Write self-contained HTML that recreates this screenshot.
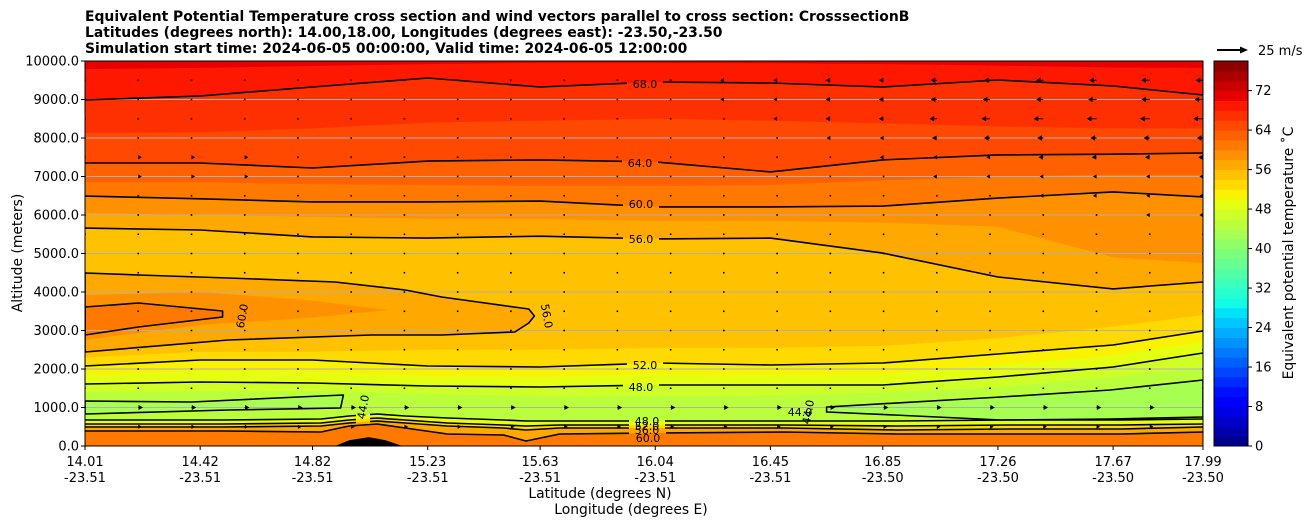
<!DOCTYPE html>
<html><head><meta charset="utf-8">
<style>
html,body{margin:0;padding:0;background:#fff;}
svg{display:block;font-family:"DejaVu Sans","Liberation Sans",sans-serif;}
</style></head>
<body>
<svg id="chart" width="1308" height="526" viewBox="0 0 1308 526" xmlns="http://www.w3.org/2000/svg">
  <defs>
    <clipPath id="plotclip"><rect x="85" y="61" width="1118" height="385"/></clipPath>
    <mask id="labelmask" maskUnits="userSpaceOnUse" x="0" y="0" width="1308" height="526">
      <rect x="0" y="0" width="1308" height="526" fill="#fff"/>
      <g id="maskholes" fill="#000"></g>
    </mask>
  </defs>
  <g font-size="13.9" font-weight="bold" fill="#000">
    <text x="85" y="21">Equivalent Potential Temperature cross section and wind vectors parallel to cross section: CrosssectionB</text>
    <text x="85" y="37">Latitudes (degrees north): 14.00,18.00, Longitudes (degrees east): -23.50,-23.50</text>
    <text x="85" y="53">Simulation start time: 2024-06-05 00:00:00, Valid time: 2024-06-05 12:00:00</text>
  </g>
  <g id="fills" clip-path="url(#plotclip)"></g>
  <g id="grid" clip-path="url(#plotclip)"></g>
  <g id="terrain" clip-path="url(#plotclip)"></g>
  <g id="lines" clip-path="url(#plotclip)" mask="url(#labelmask)"></g>
  <g id="clabels" font-size="11" fill="#000"></g>
  <g id="quiver" clip-path="url(#plotclip)"></g>
  <rect x="85" y="61" width="1118" height="385" fill="none" stroke="#000" stroke-width="1"/>
  <g id="yaxis" font-size="13"></g>
  <g id="xaxis" font-size="13"></g>
  <text x="22" y="253" font-size="13.9" text-anchor="middle" transform="rotate(-90 22 253)">Altitude (meters)</text>
  <text x="600" y="498" font-size="13.9" text-anchor="middle">Latitude (degrees N)</text>
  <text x="631" y="514" font-size="13.9" text-anchor="middle">Longitude (degrees E)</text>
  <g id="colorbar"></g>
  <text x="1293" y="253" font-size="13.9" text-anchor="middle" transform="rotate(-90 1293 253)">Equivalent potential temperature ˚C</text>
  <g>
    <line x1="1217" y1="50" x2="1241" y2="50" stroke="#000" stroke-width="2"/>
    <polygon points="1240,46.5 1248,50 1240,53.5" fill="#000"/>
    <text x="1258" y="55" font-size="13">25 m/s</text>
  </g>
</svg>
<script>
// ---------- data ----------
const gridLats = [14.01,14.42,14.82,15.23,15.63,16.04,16.45,16.85,17.26,17.67,17.99];
const lon = ["-23.51","-23.51","-23.51","-23.51","-23.51","-23.51","-23.51","-23.50","-23.50","-23.50","-23.50"];
const yTicks = [0,1000,2000,3000,4000,5000,6000,7000,8000,9000,10000];
const cbarTicks = [0,8,16,24,32,40,48,56,64,72];
const lev70 = [9790,9820,9870,9920,9950,9950,9940,9920,9880,9830,9820];
const lev68 = [8987,9091,9325,9558,9325,9455,9429,9325,9506,9351,9117];
const lev66 = [8130,8150,8250,8400,8450,8500,8450,8380,8300,8250,8250];
const lev64 = [7350,7350,7220,7400,7430,7380,7120,7430,7560,7580,7610];
const lev62 = [6850,6850,6800,6780,6750,6750,6780,6900,7000,7050,7050];
const lev60 = [6490,6420,6340,6340,6360,6210,6210,6230,6440,6600,6470];
const lev58 = [6050,6000,5950,5900,5900,5850,5850,5800,5700,4900,4750];
const lev56 = [5660,5610,5430,5400,5450,5380,5400,5010,4390,4080,4260];
const lev54 = [2300,2450,2450,2500,2500,2550,2550,2600,2800,3100,3400];
const lev52 = [2078,2234,2234,2078,2052,2156,2104,2156,2390,2623,2987];
const lev50 = [1850,1950,1930,1820,1800,1870,1850,1870,2100,2350,2700];
const lev48 = [1610,1662,1636,1558,1532,1584,1584,1584,1792,2052,2416];
const lev46 = [1400,1420,1430,1350,1300,1300,1320,1390,1530,1800,2050];
const lobe56 = [[14.01,4494],[14.20,4442],[14.52,4364],[14.90,4260],[15.15,4052],[15.28,3870],[15.59,3558],[15.61,3377],[15.59,3195],[15.54,2961],[15.28,2883],[15.03,2883],[14.52,2753],[14.01,2442]];
const tongue58 = [[14.01,3922],[14.42,4000],[14.80,3792],[15.09,3532],[14.80,3325],[14.42,3143],[14.01,2753]];
const lobe60 = [[14.01,3610],[14.20,3714],[14.50,3506],[14.50,3350],[14.20,3090],[14.01,2883]];
const lobe44L = [[14.01,1169],[14.39,1143],[14.77,1273],[14.93,1325],[14.92,987],[14.52,935],[14.01,831]];
const lobe44R = [[16.65,1013],[17.27,1273],[17.66,1455],[17.99,1714],[17.99,753],[17.66,700],[17.27,675],[16.89,805],[16.65,883]];
const botLats = [14.01,14.5,14.85,14.95,15.05,15.15,15.3,15.5,15.58,15.7,16.04,16.5,16.9,17.3,17.7,17.99];
const bot48 = [675,675,701,779,831,779,727,675,649,649,649,649,649,675,675,701];
const bot52 = [571,571,597,675,727,675,597,545,519,545,545,545,519,545,545,571];
const bot56 = [494,494,519,597,649,597,519,468,416,468,468,468,416,442,442,494];
const bot60 = [390,390,364,519,571,468,312,286,130,312,338,364,312,312,312,364];
const terrainLats = [14.90,14.95,15.02,15.08,15.14];
const terrainAlt = [0,150,230,150,0];
const windAlts = [9500,9000,8500,8000,7500,7000,6500,6000,5500,5000,4500,4000,3500,3000,2500,2000,1500,1000,500];
const w9500=[0,0,0,0,0,0,0,0,0,0,0,-2,-3,-3,-4,-4,-5,-5,-6,-6,-7,-6];
const w9000=[0,0,0,0,0,0,0,0,0,0,0,-2,-3,-3,-4,-4,-5,-6,-6,-7,-7,-7];
const w8500=[0,0,0,0,0,0,0,0,0,0,0,-2,-2,-3,-4,-4,-6,-7,-8,-8,-8,-8];
const w8000=[0,2,2,2,1,0,0,0,0,0,0,-1,-2,-2,-3,-3,-4,-5,-5,-5,-5,-5];
const w7500=[1,3,3,3,2,1,1,0,0,0,0,-1,-1,-2,-2,-3,-3,-3,-4,-4,-4,-4];
const w7000=[0,3,3,3,2,1,0,0,0,0,0,-1,-1,-1,-2,-2,-3,-3,-3,-3,-3,-3];
const w6500=[0,1,1,1,1,0,0,0,0,0,0,-1,-1,-1,-2,-2,-2,-2,-3,-3,-3,-3];
const w6000=[0,1,0,0,0,0,0,0,0,0,0,-1,-1,-1,-1,-2,-2,-2,-2,-2,-3,-3];
const w5500=[0,0,0,0,0,0,0,0,0,0,0,-1,-1,-1,-1,-2,-2,-2,-2,-2,-2,-2];
const w5000=[0,0,0,0,0,0,0,0,0,0,0,0,-1,-1,-1,-1,-2,-2,-2,-2,-2,-2];
const w4500=[0,1,1,1,0,0,0,0,0,0,0,0,0,-1,-1,-1,-1,-2,-2,-2,-2,-2];
const w4000=[0,1,1,1,1,1,0,0,0,0,0,0,0,0,-1,-1,-1,-2,-2,-2,-2,-2];
const w3500=[0,1,1,1,0,0,0,0,0,0,0,0,0,0,0,-1,-1,-1,-2,-2,-2,-2];
const w3000=[0,1,1,1,0,0,0,0,0,0,0,0,0,0,0,0,-1,-1,-1,-1,-1,-1];
const w2500=[0,0,0,0,0,0,0,0,0,0,0,0,0,0,0,0,0,0,-1,-1,-1,-1];
const w2000=[0,0,0,0,0,0,0,0,0,0,0,0,0,0,0,0,0,0,0,0,0,0];
const w1500=[0,0,0,0,0,0,0,0,0,0,0,0,0,0,0,0,0,0,0,0,0,0];
const w1000=[0,4,4,4,4,4,4,4,4,4,4,4,4,4,4,4,4,4,4,4,4,4];
const w500=[0,3,3,3,3,3,3,3,3,3,3,3,3,3,3,3,3,3,3,3,3,3];
const windRows=[w9500,w9000,w8500,w8000,w7500,w7000,w6500,w6000,w5500,w5000,w4500,w4000,w3500,w3000,w2500,w2000,w1500,w1000,w500];

// ---------- scales ----------
const NS="http://www.w3.org/2000/svg";
const X0=85,X1=1203,Y0=446,Y1=61;
const LAT0=14.01,LAT1=17.99,ALT1=10000;
function X(lat){return X0+(lat-LAT0)/(LAT1-LAT0)*(X1-X0);}
function Y(alt){return Y0-alt/ALT1*(Y0-Y1);}
const VMAX=78;
function interp(pts,v){for(let i=0;i<pts.length-1;i++){if(v<=pts[i+1][0]){const t=(v-pts[i][0])/(pts[i+1][0]-pts[i][0]);return pts[i][1]+t*(pts[i+1][1]-pts[i][1]);}}return pts[pts.length-1][1];}
function jet(v){
  const r=interp([[0,0],[0.35,0],[0.66,1],[0.89,1],[1,0.5]],v);
  const g=interp([[0,0],[0.125,0],[0.375,1],[0.64,1],[0.91,0],[1,0]],v);
  const b=interp([[0,0.5],[0.11,1],[0.34,1],[0.65,0],[1,0]],v);
  const h=x=>Math.round(Math.max(0,Math.min(1,x))*255).toString(16).padStart(2,'0');
  return '#'+h(r)+h(g)+h(b);
}
function band(lo){return jet((lo+1)/VMAX);}
function mk(tag,attrs,parent){const e=document.createElementNS(NS,tag);for(const k in attrs)e.setAttribute(k,attrs[k]);parent.appendChild(e);return e;}

const fills=document.getElementById('fills');
function fillBelow(lats,alts,lo,name){
  let d='M'+X(lats[0])+','+Y0;
  lats.forEach((la,i)=>{d+=' L'+X(la).toFixed(1)+','+Y(alts[i]).toFixed(1);});
  d+=' L'+X(lats[lats.length-1])+','+Y0+' Z';
  const p=mk('path',{d:d,fill:band(lo)},fills);
  
  
}
function fillPoly(pts,lo,name){
  const d='M'+pts.map(p=>X(p[0]).toFixed(1)+','+Y(p[1]).toFixed(1)).join(' L')+' Z';
  const p=mk('path',{d:d,fill:band(lo)},fills);
  
  
}
const bg=mk('rect',{x:X0,y:Y1,width:X1-X0,height:Y0-Y1,fill:band(70)},fills);


fillBelow(gridLats,lev70,68,'band-68-70');
fillBelow(gridLats,lev68,66,'band-66-68');
fillBelow(gridLats,lev66,64,'band-64-66');
fillBelow(gridLats,lev64,62,'band-62-64');
fillBelow(gridLats,lev62,60,'band-60-62');
fillBelow(gridLats,lev60,58,'band-58-60');
fillBelow(gridLats,lev58,56,'band-56-58');
fillBelow(gridLats,lev56,54,'band-54-56');
fillPoly(lobe56,56,'lobe-56');
fillPoly(tongue58,58,'tongue-58');
fillPoly(lobe60,60,'lobe-60');
fillBelow(gridLats,lev54,52,'band-52-54');
fillBelow(gridLats,lev52,50,'band-50-52');
fillBelow(gridLats,lev50,48,'band-48-50');
fillBelow(gridLats,lev48,46,'band-46-48');
fillBelow(gridLats,lev46,44,'band-44-46');
fillPoly(lobe44L,42,'lobe-44-left');
fillPoly(lobe44R,42,'lobe-44-right');
fillBelow(botLats,bot48,48,'surface-band-48');
fillBelow(botLats,bot52,52,'surface-band-52');
fillBelow(botLats,bot56,56,'surface-band-56');
fillBelow(botLats,bot60,60,'surface-band-60');

const grid=document.getElementById('grid');
yTicks.forEach(t=>{ if(t===0||t===ALT1) return;
  const l=mk('line',{x1:X0,x2:X1,y1:Y(t),y2:Y(t),stroke:'#b0b0b0','stroke-width':1},grid);
  
  
});

const ter=document.getElementById('terrain');
let td='M'+X(terrainLats[0])+','+Y0;
terrainLats.forEach((la,i)=>{td+=' L'+X(la).toFixed(1)+','+Y(terrainAlt[i]).toFixed(1);});
td+=' Z';
const tp=mk('path',{d:td,fill:'#000'},ter);



const lines=document.getElementById('lines');
function strokeLine(lats,alts,name){
  const d='M'+lats.map((la,i)=>X(la).toFixed(1)+','+Y(alts[i]).toFixed(1)).join(' L');
  const p=mk('path',{d:d,fill:'none',stroke:'#000','stroke-width':1.6,'stroke-linejoin':'round'},lines);
  
  
}
function strokePoly(pts,name){
  const d='M'+pts.map(p=>X(p[0]).toFixed(1)+','+Y(p[1]).toFixed(1)).join(' L')+' Z';
  const p=mk('path',{d:d,fill:'none',stroke:'#000','stroke-width':1.6,'stroke-linejoin':'round'},lines);
  
  
}
strokeLine(gridLats,lev68,'contour-68');
strokeLine(gridLats,lev64,'contour-64');
strokeLine(gridLats,lev60,'contour-60');
strokeLine(gridLats,lev56,'contour-56');
strokeLine(gridLats,lev52,'contour-52');
strokeLine(gridLats,lev48,'contour-48');
strokePoly(lobe56,'contour-56-lobe');
strokePoly(lobe60,'contour-60-lobe');
strokePoly(lobe44L,'contour-44-left');
strokePoly(lobe44R,'contour-44-right');
strokeLine(botLats,bot48,'contour-48-surface');
strokeLine(botLats,bot52,'contour-52-surface');
strokeLine(botLats,bot56,'contour-56-surface');
strokeLine(botLats,bot60,'contour-60-surface');

const clabels=document.getElementById('clabels');
const holes=document.getElementById('maskholes');
const labelSpec=[["68.0",645,84,0,1],["64.0",640,163,0,1],["60.0",641,204,0,1],["56.0",641,239,0,1],["52.0",645,365,0,1],["48.0",641,387,0,1],
 ["60.0",242,316,-80,1],["56.0",547,316,80,1],["44.0",363,407,-80,1],["44.0",800,412,0,1],["44.0",808,412,-80,0],
 ["48.0",647,421,0,1],["52.0",647,426,0,1],["56.0",647,430,0,1],["60.0",648,438,0,1]];
labelSpec.forEach(s=>{
  const t=mk('text',{x:s[1],y:s[2]+4,'text-anchor':'middle',transform:'rotate('+s[3]+' '+s[1]+' '+s[2]+')'},clabels);
  t.textContent=s[0];
  
  
  if(s[4]){
    const w=s[3]===0?36:14,h=s[3]===0?12:34;
    mk('rect',{x:s[1]-w/2,y:s[2]-h/2,width:w,height:h},holes);
  }
});

const q=document.getElementById('quiver');
const nCols=w500.length;
windRows.forEach((row,ri)=>{
  const y=Y(windAlts[ri]);
  row.forEach((u,ci)=>{
    const x=X0+ci*(X1-X0)/(nCols-1);
    const L=Math.abs(u)*30/25;
    let el;
    if(L<2.5){
      el=mk('rect',{x:x-0.8,y:y-0.8,width:1.6,height:1.6,fill:'#000'},q);
    }else{
      const s=Math.sign(u);
      const hl=Math.min(L,4.5),hw=Math.min(2.8,1+L*0.3);
      const xe=x+s*L,xb=xe-s*hl;
      el=mk('path',{d:'M'+x+','+(y-0.5)+' L'+xb+','+(y-0.5)+' L'+xb+','+(y-hw)+' L'+xe+','+y+' L'+xb+','+(y+hw)+' L'+xb+','+(y+0.5)+' L'+x+','+(y+0.5)+' Z',fill:'#000'},q);
    }
    
    
  });
});

const ya=document.getElementById('yaxis');
yTicks.forEach(t=>{
  const tk=mk('line',{x1:X0-4,x2:X0,y1:Y(t),y2:Y(t),stroke:'#000'},ya);
  
  
  const tx=mk('text',{x:X0-6,y:Y(t)+4.5,'text-anchor':'end'},ya);
  tx.textContent=t.toFixed(1);
  
  
});
const xa=document.getElementById('xaxis');
gridLats.forEach((la,i)=>{
  const x=X(la);
  const tk=mk('line',{x1:x,x2:x,y1:Y0,y2:Y0+4,stroke:'#000'},xa);
  
  
  const t1=mk('text',{x:x,y:466,'text-anchor':'middle'},xa);
  t1.textContent=la.toFixed(2);
  
  
  const t2=mk('text',{x:x,y:482,'text-anchor':'middle'},xa);
  t2.textContent=lon[i];
  
  
});
const cb=document.getElementById('colorbar');
const CBX=1214,CBW=34,CBY0=446,CBY1=61;
function CY(v){return CBY0-v/VMAX*(CBY0-CBY1);}
for(let lo=0;lo<VMAX;lo+=2){
  const r=mk('rect',{x:CBX,y:CY(lo+2),width:CBW,height:CY(lo)-CY(lo+2)+0.5,fill:band(lo)},cb);
  
  
}
mk('rect',{x:CBX,y:CBY1,width:CBW,height:CBY0-CBY1,fill:'none',stroke:'#000','stroke-width':1},cb);
cbarTicks.forEach(t=>{
  const tk=mk('line',{x1:CBX+CBW,x2:CBX+CBW+4,y1:CY(t),y2:CY(t),stroke:'#000'},cb);
  
  
  const tx=mk('text',{x:CBX+CBW+7,y:CY(t)+4.5,'font-size':13},cb);
  tx.textContent=t;
  
  
});
</script>
</body></html>
